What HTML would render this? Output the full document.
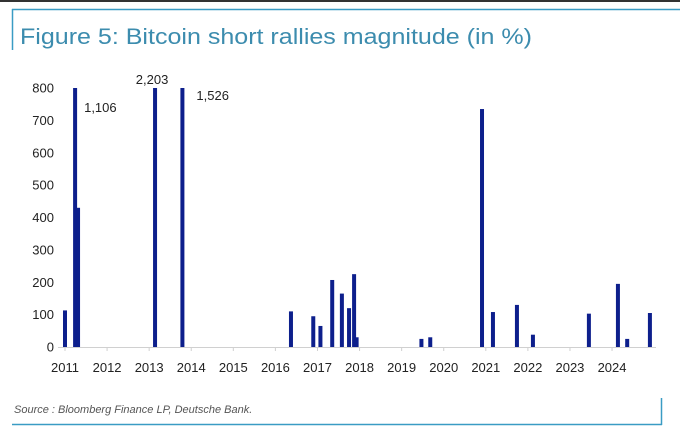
<!DOCTYPE html>
<html><head><meta charset="utf-8"><style>
body{margin:0;background:#fff;width:680px;height:435px;overflow:hidden;font-family:"Liberation Sans",sans-serif}
</style></head><body>
<svg width="680" height="435" xmlns="http://www.w3.org/2000/svg">
<rect x="0" y="0" width="680" height="2" fill="#333"/>
<line x1="12" y1="9.5" x2="680" y2="9.5" stroke="#3a9cc4" stroke-width="1.5"/>
<line x1="12.5" y1="9" x2="12.5" y2="50" stroke="#3a9cc4" stroke-width="1.5"/>
<text x="20" y="44" font-size="22.5" fill="#3c8cae" textLength="512" lengthAdjust="spacingAndGlyphs">Figure 5: Bitcoin short rallies magnitude (in %)</text>
<g id="yaxis"></g>
<g id="xaxis"></g>
<line x1="58" y1="347.5" x2="656" y2="347.5" stroke="#d0d0d0" stroke-width="1"/>
<g id="bars"></g>
<g id="labels"></g>
<text x="14" y="413" font-size="11" font-style="italic" fill="#555">Source : Bloomberg Finance LP, Deutsche Bank.</text>
<line x1="12" y1="424.5" x2="662" y2="424.5" stroke="#3a9cc4" stroke-width="1.5"/>
<line x1="661.5" y1="398" x2="661.5" y2="425" stroke="#3a9cc4" stroke-width="1.5"/>
</svg>
<script>
const dates=[2011.0,2011.24,2011.31,2013.14,2013.79,2016.37,2016.9,2017.07,2017.35,2017.58,2017.75,2017.87,2017.93,2019.47,2019.68,2020.91,2021.17,2021.74,2022.12,2023.45,2024.14,2024.36,2024.9];
const values=[113,1106,430,2203,1526,110,95,65,207,165,120,225,30,25,30,735,108,130,38,103,195,25,105];
const yTicks=[0,100,200,300,400,500,600,700,800];
const yearTicks=[2011,2012,2013,2014,2015,2016,2017,2018,2019,2020,2021,2022,2023,2024];
const yMax=800;
const NS="http://www.w3.org/2000/svg";
function x(v){return 65+(v-2011)*42.08;}
function y(v){return 347-Math.min(v,yMax)*(259/800);}
function mk(tag,attrs,parent){const e=document.createElementNS(NS,tag);for(const k in attrs)e.setAttribute(k,attrs[k]);document.getElementById(parent).appendChild(e);return e;}
yTicks.forEach(t=>{const e=mk('text',{x:54,y:y(t)+4.5,'font-size':13,fill:'#222','text-anchor':'end'},'yaxis');e.textContent=t;

});
yearTicks.forEach(t=>{const e=mk('text',{x:x(t),y:372,'font-size':13,fill:'#222','text-anchor':'middle'},'xaxis');e.textContent=t;


const l=mk('line',{x1:x(t),x2:x(t),y1:347,y2:351,stroke:'#d0d0d0'},'xaxis');

});
dates.forEach((d,i)=>{const v=values[i];const top=y(v);
const r=mk('rect',{x:x(d)-2,y:top,width:4,height:347-top,fill:'#0d1f8c'},'bars');


if(v>yMax){const off={1:[9,24],3:[-3,-4],4:[14,12]}[i]||[8,10];
const t=mk('text',{x:x(d)+off[0],y:y(yMax)+off[1],'font-size':13,fill:'#222','text-anchor':i==3?'middle':'start'},'labels');
t.textContent=v.toLocaleString('en-US');

}});
</script>
</body></html>
